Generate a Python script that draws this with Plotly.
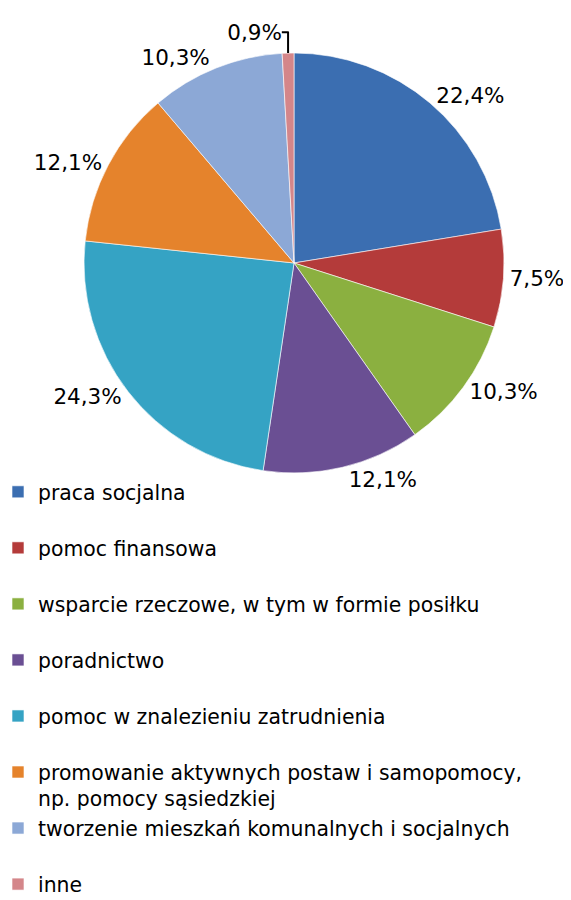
import plotly.graph_objects as go

categories = [
    "praca socjalna",
    "pomoc finansowa",
    "wsparcie rzeczowe, w tym w formie posiłku",
    "poradnictwo",
    "pomoc w znalezieniu zatrudnienia",
    "promowanie aktywnych postaw i samopomocy,<br>np. pomocy sąsiedzkiej",
    "tworzenie mieszkań komunalnych i socjalnych",
    "inne",
]
values = [22.4, 7.5, 10.3, 12.1, 24.3, 12.1, 10.3, 0.9]
colors = ["#3B6EB1", "#B43B3A", "#8BB040", "#6A4F93", "#35A3C4",
          "#E5832C", "#8CA8D6", "#D4868A"]

# legend entries: single-line labels get a blank second line (Excel-style spacing),
# except the last one
legend_labels = [
    c if ("<br>" in c or i == len(categories) - 1) else c + "<br> "
    for i, c in enumerate(categories)
]

FONT = "DejaVu Sans"

fig = go.Figure(go.Pie(
    labels=legend_labels,
    values=values,
    sort=False,
    direction="clockwise",
    rotation=0,
    marker=dict(colors=colors, line=dict(color="rgba(255,255,255,0.6)", width=1)),
    textposition="outside",
    texttemplate="%{value:.1f}%",
    textfont=dict(size=21.5, color="#000000", family=FONT),
    hoverinfo="label+value",
    domain=dict(x=[0.1331, 0.8687], y=[0.4834, 0.95]),
))

fig.update_layout(
    width=571, height=900,
    margin=dict(l=0, r=0, t=0, b=0, autoexpand=False),
    separators=",.",
    paper_bgcolor="white",
    font=dict(family=FONT, color="#000000"),
    showlegend=True,
    legend=dict(
        x=-0.0175, xanchor="left", y=0.4844, yanchor="top",
        font=dict(size=20.4, family=FONT, color="#000000"),
        valign="top",
        traceorder="normal",
        itemclick=False,
        bgcolor="rgba(0,0,0,0)",
    ),
)

fig.write_html("out.html")
